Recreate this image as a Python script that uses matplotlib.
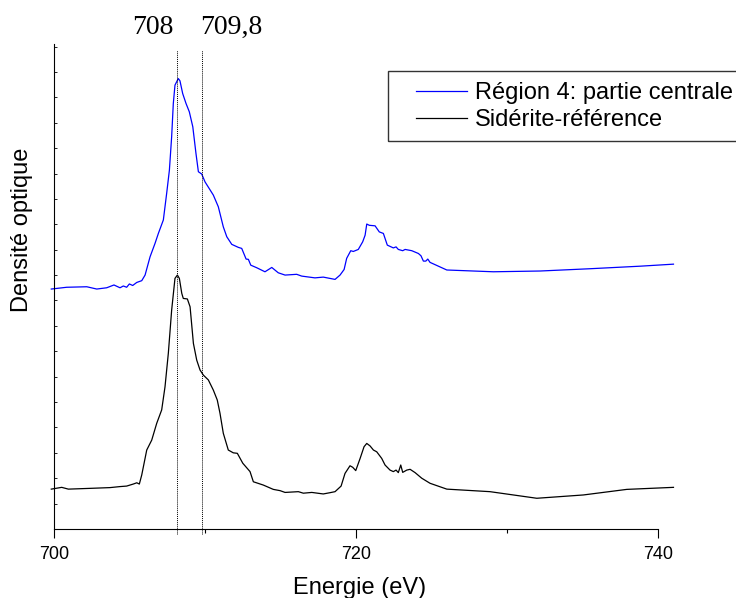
import matplotlib
matplotlib.use('Agg')
import matplotlib.pyplot as plt
from matplotlib.patches import Rectangle

plt.rcParams['font.family'] = ['Liberation Sans', 'DejaVu Sans']

# define data (energy in eV, optical density, offset spectra)
region4_energy = [699.8, 700.82, 702.15, 702.81, 703.47, 703.95, 704.35, 704.57, 704.79, 704.97,
                  705.19, 705.46, 705.79, 706.01, 706.34, 706.67, 706.89, 707.22, 707.44, 707.62,
                  707.77, 707.88, 707.99, 708.21, 708.32, 708.50, 708.72, 708.94, 709.17, 709.38,
                  709.54, 709.76, 709.98, 710.53, 710.86, 711.19, 711.42, 711.75, 712.19, 712.41,
                  712.70, 712.85, 713.01, 713.40, 713.95, 714.40, 714.83, 715.28, 716.05, 716.38,
                  717.26, 717.81, 718.59, 718.92, 719.19, 719.36, 719.63, 719.80, 720.13, 720.42,
                  720.58, 720.69, 720.86, 721.24, 721.52, 721.79, 722.05, 722.45, 722.63, 722.78,
                  723.07, 723.23, 723.67, 724.11, 724.28, 724.44, 724.60, 724.73, 724.88, 725.99,
                  729.07, 732.17, 735.48, 738.79, 741.00]
region4_od = [0.945, 0.952, 0.954, 0.945, 0.950, 0.961, 0.950, 0.957, 0.952, 0.965,
              0.959, 0.971, 0.978, 1.000, 1.072, 1.125, 1.164, 1.217, 1.322, 1.413,
              1.545, 1.676, 1.748, 1.774, 1.765, 1.715, 1.676, 1.643, 1.584, 1.479,
              1.407, 1.398, 1.367, 1.315, 1.269, 1.190, 1.151, 1.121, 1.109, 1.105,
              1.063, 1.062, 1.039, 1.029, 1.013, 1.030, 1.009, 1.000, 1.003, 0.996,
              0.989, 0.992, 0.983, 1.000, 1.022, 1.066, 1.096, 1.093, 1.101, 1.131,
              1.157, 1.201, 1.196, 1.194, 1.170, 1.164, 1.118, 1.107, 1.111, 1.101,
              1.096, 1.101, 1.096, 1.085, 1.076, 1.055, 1.055, 1.063, 1.050, 1.020,
              1.013, 1.016, 1.025, 1.035, 1.043]

siderite_energy = [699.8, 700.49, 700.93, 702.36, 703.69, 704.35, 704.79, 705.23, 705.46, 705.63,
                   705.79, 706.12, 706.45, 706.78, 707.11, 707.33, 707.55, 707.77, 707.99, 708.15,
                   708.28, 708.44, 708.54, 708.81, 708.99, 709.21, 709.43, 709.65, 709.87, 710.20,
                   710.53, 710.79, 710.97, 711.19, 711.52, 711.85, 712.12, 712.48, 712.96, 713.18,
                   713.84, 714.50, 714.95, 715.28, 716.16, 716.49, 717.05, 717.81, 718.26, 718.59,
                   718.99, 719.25, 719.58, 719.76, 719.96, 720.25, 720.51, 720.69, 720.91, 721.13,
                   721.35, 721.68, 721.90, 722.23, 722.45, 722.63, 722.78, 722.94, 723.07, 723.34,
                   723.56, 723.89, 724.33, 724.88, 725.99, 728.85, 731.95, 735.03, 737.91, 741.00]
siderite_od = [0.157, 0.164, 0.157, 0.160, 0.163, 0.167, 0.169, 0.177, 0.182, 0.177,
               0.213, 0.311, 0.350, 0.416, 0.469, 0.560, 0.692, 0.862, 0.987, 1.000,
               0.987, 0.928, 0.908, 0.906, 0.875, 0.731, 0.665, 0.626, 0.606, 0.587,
               0.547, 0.508, 0.456, 0.377, 0.311, 0.300, 0.298, 0.259, 0.226, 0.186,
               0.173, 0.156, 0.151, 0.144, 0.147, 0.141, 0.144, 0.138, 0.143, 0.147,
               0.169, 0.219, 0.249, 0.243, 0.230, 0.278, 0.324, 0.337, 0.327, 0.311,
               0.304, 0.278, 0.252, 0.232, 0.226, 0.232, 0.222, 0.252, 0.223, 0.232,
               0.235, 0.222, 0.200, 0.180, 0.157, 0.147, 0.121, 0.134, 0.156, 0.164]

peak_pos = [708.1, 709.8]
peak_labels = ['708', '709,8']
x_ticks = [700, 720, 740]
x_minor = [710, 730]

# make plot
fig = plt.figure(figsize=(7.36, 5.98), dpi=100)
ax = fig.add_axes([0.0738, 0.1154, 0.8515, 0.811])

ax.plot(region4_energy, region4_od, color='#0000ff', lw=0.9, clip_on=False,
        label='Région 4: partie centrale')
ax.plot(siderite_energy, siderite_od, color='black', lw=0.9, clip_on=False,
        label='Sidérite-référence')

for p in peak_pos:
    ax.plot([p, p], [-0.02, 1.886], color='black', lw=0.7, ls=(0, (1, 1)), clip_on=False)

# customize plot
ax.set_xlim(700, 741.5)
ax.set_ylim(0, 1.91)
ax.spines['top'].set_visible(False)
ax.spines['right'].set_visible(False)
ax.spines['bottom'].set_bounds(700, 740)
for s in ['left', 'bottom']:
    ax.spines[s].set_linewidth(0.8)

ax.set_xticks(x_ticks)
ax.set_xticks(x_minor, minor=True)
ax.tick_params(axis='x', which='major', direction='out', length=6.5, width=0.8,
               labelsize=13, pad=6)
ax.tick_params(axis='x', which='minor', direction='out', length=3, width=0.8)
ax.set_yticks([i * 0.1 for i in range(1, 20)])
ax.tick_params(axis='y', direction='in', length=2, width=0.6, labelleft=False)

fig.text(22 / 736, 1 - 230 / 598, 'Densité optique', rotation=90, fontsize=17,
         ha='center', va='center')
fig.text(360 / 736, 1 - 594 / 598, 'Energie (eV)', fontsize=17, ha='center',
         va='baseline')

label_x = [153, 231]
for lx, txt in zip(label_x, peak_labels):
    fig.text(lx / 736, 1 - 27 / 598, txt, fontsize=20, family='Liberation Serif',
             ha='center', va='center')

leg = ax.legend(loc='upper left', bbox_to_anchor=(416 / 736, 1 - 82 / 598),
                bbox_transform=fig.transFigure, frameon=False, fontsize=17,
                borderpad=0, borderaxespad=0, handlelength=2.16,
                handletextpad=0.34, labelspacing=0.22)
fig.add_artist(Rectangle((388 / 736, 1 - 141 / 598), 380 / 736, 70 / 598,
                         transform=fig.transFigure, fill=False,
                         edgecolor='#333333', lw=1))

fig.savefig('out.png', dpi=100)
